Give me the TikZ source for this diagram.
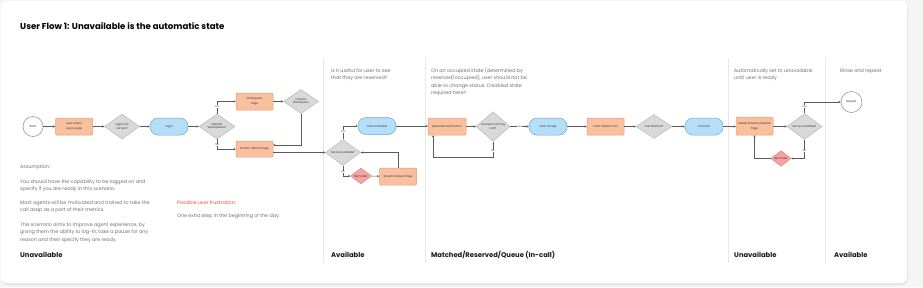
\documentclass[tikz,border=0pt]{standalone}
\usepackage{fontspec}
\setmainfont{Poppins}
\usetikzlibrary{shapes.geometric,arrows.meta,calc}
\definecolor{orfill}{HTML}{F9C09F}
\definecolor{orline}{HTML}{E39A72}
\definecolor{blfill}{HTML}{B5DEF9}
\definecolor{blline}{HTML}{6FA6D6}
\definecolor{gyfill}{HTML}{D9D9D9}
\definecolor{gyline}{HTML}{B8B8B8}
\definecolor{rdfill}{HTML}{F6A3A3}
\definecolor{rdline}{HTML}{E98080}
\definecolor{notegray}{HTML}{707070}
\definecolor{linegray}{HTML}{5A5A5A}
\definecolor{frustred}{HTML}{E5484D}
\tikzset{
  nodetext/.style={font=\fontsize{2.8}{3.5}\selectfont, text=black!80, align=center, inner sep=0pt},
  proc/.style={nodetext, rectangle, rounded corners=1pt, fill=orfill, draw=orline, line width=0.5pt, minimum width=37, minimum height=17},
  pill/.style={nodetext, rectangle, rounded corners=8pt, fill=blfill, draw=blline, line width=0.5pt, minimum width=38, minimum height=17},
  dec/.style={nodetext, diamond, fill=gyfill, draw=gyline, line width=0.5pt, minimum width=35, minimum height=25},
  reddec/.style={nodetext, diamond, fill=rdfill, draw=rdline, line width=0.5pt, minimum width=21, minimum height=12.5},
  term/.style={nodetext, circle, fill=white, draw=black!45, line width=0.5pt, minimum size=20},
  arr/.style={draw=linegray, line width=0.55pt, -{Stealth[length=2.2pt,width=2.2pt]}},
  lbl/.style={font=\fontsize{2.5}{3}\selectfont, text=black!70, fill=white, inner sep=0.4pt},
  note/.style={font=\fontsize{4.85}{7.4}\selectfont, text=notegray, align=left, anchor=base west, inner sep=0pt},
  lane/.style={font=\fontsize{6.8}{8}\selectfont\bfseries, text=black!90, anchor=base west, inner sep=0pt},
  divider/.style={draw=black!9, line width=0.6pt}
}
\begin{document}
\begin{tikzpicture}[x=1pt,y=-1pt]
\useasboundingbox (0,0) rectangle (923,287);
\fill[black!4] (0,0) rectangle (923,287);
\fill[black!10, rounded corners=6pt] (2,3) rectangle (908,285);
\fill[white, rounded corners=6pt] (1,1) rectangle (907,283);

% title
\node[anchor=base west, inner sep=0pt, font=\fontsize{8.6}{10}\selectfont\bfseries] (title) at (20,29) {User Flow 1: Unavailable is the automatic state};

% lane dividers
\draw[divider] (323,58) -- (323,263);
\draw[divider] (425,58) -- (425,263);
\draw[divider] (728,58) -- (728,263);
\draw[divider] (825,58) -- (825,263);

% lane labels
\node[lane] (l1) at (20,257.5) {Unavailable};
\node[lane] (l2) at (331,257.5) {Available};
\node[lane] (l3) at (431,257.5) {Matched/Reserved/Queue (In-call)};
\node[lane] (l4) at (734,257.5) {Unavailable};
\node[lane] (l5) at (834,257.5) {Available};

% lane notes (anchor = baseline of last line)
\node[note] (n2) at (331,79.9) {Is it useful for user to see\\that they are reserved?};
\node[note] (n3) at (431,94.7) {On an occupied state (determined by\\reserved/occupied), user should not be\\able to change status. Disabled state\\required here?};
\node[note] (n4) at (734,79.9) {Automatically set to unavailable\\until user is ready};
\node[note] (n5) at (840,72.5) {Rinse and repeat};

% assumption text
\node[note] (as0) at (20,168.5) {Assumption :};
\node[note] (as1) at (20,190.9) {You should have the capability to be logged on and\\specify if you are ready in this scenario.};
\node[note] (as2) at (20,211.9) {Most agents will be motivated and trained to take the\\call asap as a part of their metrics.};
\node[note] (as3) at (20,241.3) {This scenario aims to improve agent experience, by\\giving them the ability to log-in, take a pause for any\\reason and then specify they are ready.};
\node[note, text=frustred] (fr0) at (177,204.5) {Possible user frustration:};
\node[note] (fr1) at (177,217.5) {One extra step in the beginning of the day.};

% unavailable lane nodes
\node[term] (start) at (33,126.5) {Start};
\node[proc] (ue) at (74,126.5) {User enters\\[1pt]Log in page};
\node[dec] (lic) at (122,126.5) {Login info\\correct?};
\node[pill] (login) at (169,126.5) {Login};
\node[dec, minimum width=36] (mw) at (217,126.5) {Multiple\\Workspaces?};
\node[proc] (wp) at (254.5,101.5) {Workspace\\[1pt]Page};
\node[dec, minimum height=24] (cw) at (301,101.5) {Choose\\Workspace};
\node[proc, minimum height=16] (sdp1) at (254.5,149) {Stream Default Page};

% available lane nodes
\node[dec] (sa1) at (343,152.5) {Set as available?};
\node[pill] (ca) at (377,126) {Click available};
\node[reddec] (rd1) at (361,176) {Reminder};
\node[proc] (sdp2) at (398,176.5) {Stream Default Page};

% matched lane nodes
\node[proc, minimum width=38] (rn) at (447,126.5) {Reserved Notification};
\node[dec, minimum width=34, minimum height=23] (aic) at (493,126.5) {Accept Incoming\\Call?};
\node[pill] (cacc) at (548,126.5) {Click accept};
\node[proc] (esc) at (605.5,126.5) {Enter Stream Call};
\node[dec, minimum width=36, minimum height=24] (cf) at (654,126.5) {Call finished?};
\node[pill] (ec) at (704,126.5) {End Call};

% second unavailable lane nodes
\node[proc, minimum height=18] (dsd) at (754.5,126) {Details/Stream/Default\\[1pt]Page};
\node[dec, minimum height=23] (sa2) at (804.5,126.5) {Set as available?};
\node[reddec, minimum width=20, minimum height=13] (rd2) at (781,158.5) {Reminder};
\node[term, minimum size=21] (rep) at (851.5,102) {Repeat};

% helper coordinates
\coordinate (nb) at (433,157);

% connectors: first lane
\draw[arr] (start) -- (ue);
\draw[arr] (ue) -- (lic);
\draw[arr] (lic) -- (login);
\draw[arr] (login) -- (mw);
\draw[arr] (mw.north) |- node[pos=0.3,lbl]{Yes} (wp.west);
\draw[arr] (mw.south) |- node[pos=0.3,lbl]{No} (sdp1.west);
\draw[arr] (wp) -- (cw);
\draw[arr] (cw.south) |- ($(sdp1.east)+(0,-4)$);
\draw[arr] (sdp1.east |- sa1.west) -- (sa1.west);

% connectors: available lane
\draw[arr] (sa1.north) |- node[pos=0.3,lbl]{Yes} (ca.west);
\draw[arr] (sa1.south) |- node[pos=0.3,lbl]{No} (rd1.west);
\draw[arr] (rd1) -- (sdp2);
\draw[arr] (sdp2.north) |- (sa1.east);
\draw[arr] (ca.east) -- (ca.east -| rn.west);

% connectors: matched lane
\draw[arr] (rn) -- (aic);
\draw[arr] (aic) -- node[lbl]{Yes} (cacc);
\draw[arr] (aic.south) |- node[pos=0.3,lbl]{No} (nb) -- (nb |- rn.south);
\draw[arr] (cacc) -- (esc);
\draw[arr] (esc) -- (cf);
\draw[arr] (cf) -- (ec);
\draw[arr] (ec.east) -- (ec.east -| dsd.west);

% connectors: last lanes
\draw[arr] (dsd.east |- sa2.west) -- (sa2.west);
\draw[arr] (sa2.north) |- node[pos=0.3,lbl]{Yes} (rep.west);
\draw[arr] (sa2.south) |- node[pos=0.3,lbl]{No} (rd2.east);
\draw[arr] (rd2.west) -| (dsd.south);
\end{tikzpicture}
\end{document}
